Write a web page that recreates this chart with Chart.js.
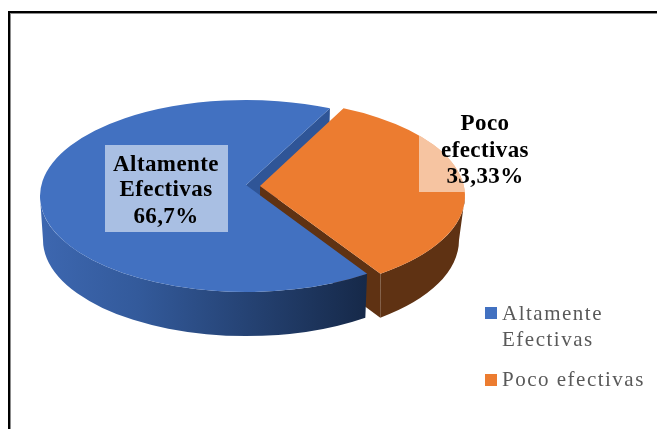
<!DOCTYPE html>
<html>
<head>
<meta charset="utf-8">
<style>
    html, body { margin: 0; padding: 0; background: #fff; overflow: hidden; }
    canvas { display: block; }
</style>
<script src="https://cdn.jsdelivr.net/npm/chart.js@4"></script>
</head>
<body>
<canvas id="pieChart" width="657" height="429"></canvas>
<script>
const categories = [['Altamente', 'Efectivas'], ['Poco efectivas']];
const values = [66.7, 33.33];
const sliceLabels = [['Altamente', 'Efectivas', '66,7%'], ['Poco', 'efectivas', '33,33%']];
const topColors = ['#4271c1', '#ec7c30'];

// 3D look: top face and bottom rim of each slice are ellipses
const slices3d = [
    { cx: 246, apexX: 246, apexY: 185, apexDepth: 43, rim: { cx: 246, a: 206, b: 96, y: 196 }, base: { cx: 246, a: 203, b: 96, y: 240 } },
    { cx: 260, apexX: 260, apexY: 186, apexDepth: 43, rim: { cx: 260, a: 205, b: 96, y: 196 }, base: { cx: 268, a: 191, b: 96, y: 240 } }
];
const labelBoxes = [
    { x: 105, y: 145, w: 123, h: 87, cx: 166, lines: [165, 190, 217] },
    { x: 419, y: 112, w: 132, h: 80, cx: 485, lines: [124, 151, 177] }
];
const legendRows = [
    { boxY: 307, lines: [314, 340] },
    { boxY: 374, lines: [380] }
];

function pointOn(ring, angle) {
    return [ring.cx + ring.a * Math.cos(angle), ring.y + ring.b * Math.sin(angle)];
}

// wedge outline of the top face
function topPath(ctx, s, arc) {
    ctx.beginPath();
    ctx.moveTo(s.apexX, s.apexY);
    ctx.ellipse(s.rim.cx, s.rim.y, s.rim.a, s.rim.b, 0, arc.startAngle, arc.endAngle);
    ctx.closePath();
}

// outer wall, only the part that faces the viewer
function wallPath(ctx, s, start, end) {
    ctx.beginPath();
    ctx.ellipse(s.rim.cx, s.rim.y, s.rim.a, s.rim.b, 0, start, end);
    ctx.ellipse(s.base.cx, s.base.y, s.base.a, s.base.b, 0, end, start, true);
    ctx.closePath();
}

// flat cut face from the centre out to the rim at one angle
function cutPath(ctx, s, angle) {
    const top = pointOn(s.rim, angle);
    const bottom = pointOn(s.base, angle);
    ctx.beginPath();
    ctx.moveTo(s.apexX, s.apexY);
    ctx.lineTo(top[0], top[1]);
    ctx.lineTo(bottom[0], bottom[1]);
    ctx.lineTo(s.apexX, s.apexY + s.apexDepth);
    ctx.closePath();
}

const pie3d = {
    id: 'pie3d',
    beforeDraw(chart) {
        const ctx = chart.ctx;
        // frame of the original picture
        ctx.fillStyle = '#8c8c8c';
        ctx.fillRect(8, 13, 657, 1);
        ctx.fillRect(10, 13, 1, 429);
        ctx.fillStyle = '#000';
        ctx.fillRect(8, 11, 657, 2);
        ctx.fillRect(8, 11, 2, 429);
    },
    beforeDatasetsDraw(chart) {
        const ctx = chart.ctx;
        const arcs = chart.getDatasetMeta(0).data;
        const blue = slices3d[0], orange = slices3d[1];

        // dark inner face behind the blue slice
        ctx.fillStyle = '#2f5597';
        cutPath(ctx, blue, arcs[0].endAngle);
        ctx.fill();

        // orange slice: wall, inner face, top
        ctx.fillStyle = '#5f3213';
        wallPath(ctx, orange, 0, arcs[0].startAngle);
        ctx.fill();
        cutPath(ctx, orange, arcs[0].startAngle);
        ctx.fill();
        ctx.fillStyle = topColors[1];
        topPath(ctx, orange, arcs[1]);
        ctx.fill();

        // blue slice: wall with its gradient, then top
        const wallFill = ctx.createLinearGradient(40, 0, 366, 0);
        wallFill.addColorStop(0, '#3d67b0');
        wallFill.addColorStop(0.3, '#335a9b');
        wallFill.addColorStop(1, '#162949');
        ctx.fillStyle = wallFill;
        wallPath(ctx, blue, arcs[0].startAngle, Math.PI);
        ctx.fill();
        ctx.fillStyle = topColors[0];
        topPath(ctx, blue, arcs[0]);
        ctx.fill();

        return false;
    },
    afterDraw(chart) {
        const ctx = chart.ctx;
        const arcs = chart.getDatasetMeta(0).data;

        // data labels, the box only tints its own slice
        labelBoxes.forEach((box, i) => {
            ctx.save();
            topPath(ctx, slices3d[i], arcs[i]);
            ctx.clip();
            ctx.fillStyle = 'rgba(255,255,255,0.55)';
            ctx.fillRect(box.x, box.y, box.w, box.h);
            ctx.restore();

            ctx.fillStyle = '#000';
            ctx.font = 'bold 23px "Liberation Serif"';
            ctx.letterSpacing = '0.4px';
            ctx.textAlign = 'center';
            ctx.textBaseline = 'middle';
            sliceLabels[i].forEach((line, j) => {
                ctx.fillText(line, box.cx, box.lines[j]);
            });
        });

        // legend
        ctx.font = '21px "Liberation Serif"';
        ctx.letterSpacing = '1.5px';
        ctx.textAlign = 'left';
        legendRows.forEach((row, i) => {
            ctx.fillStyle = topColors[i];
            ctx.fillRect(485, row.boxY, 12, 12);
            ctx.fillStyle = '#595959';
            categories[i].forEach((line, j) => {
                ctx.fillText(line, 502, row.lines[j]);
            });
        });
        ctx.letterSpacing = '0px';
    }
};

new Chart(document.getElementById('pieChart'), {
    type: 'pie',
    data: {
        labels: categories,
        datasets: [{
            data: values,
            backgroundColor: topColors,
            borderWidth: 0
        }]
    },
    options: {
        responsive: false,
        animation: false,
        rotation: 144,
        plugins: {
            tooltip: { enabled: false },
            legend: { display: false }
        }
    },
    plugins: [pie3d]
});
</script>
</body>
</html>
